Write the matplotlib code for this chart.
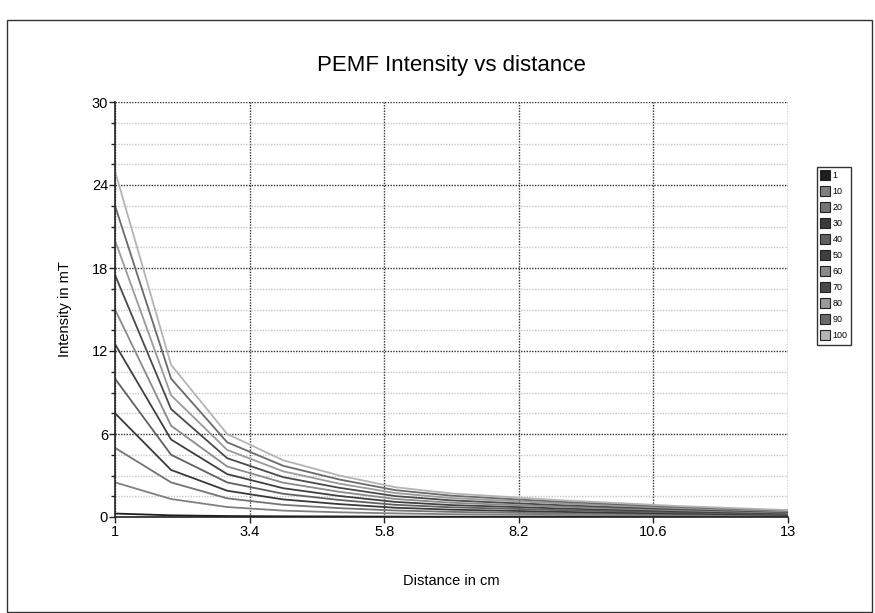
import matplotlib
matplotlib.use("Agg")
import matplotlib.pyplot as plt
from matplotlib.lines import Line2D
from matplotlib.patches import Rectangle

plt.rcParams["font.family"] = ["Liberation Sans", "DejaVu Sans"]

# distance in cm
distance = [1, 2, 3, 4, 5, 6, 7, 8, 9, 10, 11, 12, 13]

# intensity in mT for each device setting
s1 = [0.25, 0.12, 0.07, 0.05, 0.04, 0.03, 0.02, 0.02, 0.02, 0.01, 0.01, 0.01, 0.01]
s10 = [2.5, 1.3, 0.72, 0.46, 0.34, 0.26, 0.2, 0.17, 0.14, 0.12, 0.1, 0.08, 0.07]
s20 = [5.0, 2.5, 1.35, 0.88, 0.64, 0.47, 0.37, 0.31, 0.26, 0.22, 0.18, 0.15, 0.12]
s30 = [7.5, 3.4, 1.9, 1.27, 0.93, 0.67, 0.53, 0.45, 0.37, 0.31, 0.25, 0.21, 0.16]
s40 = [10.0, 4.5, 2.5, 1.68, 1.23, 0.88, 0.7, 0.6, 0.49, 0.41, 0.33, 0.27, 0.21]
s50 = [12.5, 5.6, 3.1, 2.08, 1.52, 1.09, 0.86, 0.74, 0.61, 0.51, 0.41, 0.33, 0.26]
s60 = [15.0, 6.6, 3.65, 2.48, 1.82, 1.3, 1.03, 0.88, 0.73, 0.61, 0.49, 0.4, 0.31]
s70 = [17.5, 7.8, 4.25, 2.88, 2.11, 1.51, 1.2, 1.02, 0.85, 0.7, 0.57, 0.46, 0.36]
s80 = [20.0, 8.8, 4.85, 3.3, 2.41, 1.73, 1.37, 1.17, 0.97, 0.81, 0.65, 0.53, 0.41]
s90 = [22.5, 10.0, 5.4, 3.7, 2.71, 1.94, 1.54, 1.31, 1.09, 0.91, 0.73, 0.59, 0.46]
s100 = [25.0, 11.0, 6.0, 4.1, 3.0, 2.15, 1.7, 1.45, 1.2, 1.0, 0.8, 0.65, 0.5]

labels = ["1", "10", "20", "30", "40", "50", "60", "70", "80", "90", "100"]
series = [s1, s10, s20, s30, s40, s50, s60, s70, s80, s90, s100]
colors = ["#1e1e1e", "#808080", "#747474", "#3a3a3a", "#606060", "#404040",
          "#8a8a8a", "#4a4a4a", "#9a9a9a", "#6a6a6a", "#b4b4b4"]

x_ticks = [1, 3.4, 5.8, 8.2, 10.6, 13]
x_ticklabels = ["1", "3.4", "5.8", "8.2", "10.6", "13"]
y_ticks = [0, 6, 12, 18, 24, 30]
y_minor = [1.5, 3, 4.5, 7.5, 9, 10.5, 13.5, 15, 16.5, 19.5, 21, 22.5, 25.5, 27, 28.5]

fig = plt.figure(figsize=(8.75, 6.13), dpi=100)
ax = fig.add_axes([115 / 875, 1 - 517 / 613, 673 / 875, 415 / 613])

# outer frame around the whole chart
fig.patches.append(Rectangle((7 / 875, 1 / 613), 865 / 875, 592 / 613,
                             transform=fig.transFigure, fill=False,
                             edgecolor="#333333", lw=1.0))

for vals, c in zip(series, colors):
    ax.plot(distance, vals, color=c, lw=1.3, solid_joinstyle="miter")

ax.set_xlim(1, 13)
ax.set_ylim(0, 30)
ax.set_xticks(x_ticks)
ax.set_xticklabels(x_ticklabels)
ax.set_yticks(y_ticks)
ax.set_yticks(y_minor, minor=True)

ax.grid(True, which="major", color="#333333", ls=(0, (1, 1)), lw=1.0)
ax.grid(True, which="minor", axis="y", color="#c8c8c8", ls=(0, (1, 1)), lw=1.0)
ax.set_axisbelow(True)

for side in ["top", "right"]:
    ax.spines[side].set_visible(False)
ax.spines["left"].set_color("#222222")
ax.spines["bottom"].set_color("#222222")
ax.spines["left"].set_linewidth(1.2)
ax.spines["bottom"].set_linewidth(1.2)

ax.tick_params(axis="both", which="major", length=4, width=1, labelsize=10.5,
               color="#222222", pad=2)
ax.tick_params(axis="y", which="major", pad=1)
ax.tick_params(axis="y", which="minor", length=3, width=1, color="#222222")

ax.set_title("PEMF Intensity vs distance", fontsize=16, pad=22)
ax.set_xlabel("Distance in cm", fontsize=10.5, labelpad=25)
ax.set_ylabel("Intensity in mT", fontsize=10.5, labelpad=14)

handles = [Line2D([], [], ls="none", marker="s", markersize=7.5, markerfacecolor=c,
                  markeredgecolor="#222222", markeredgewidth=0.8) for c in colors]
fig.legend(handles, labels, loc="upper left", bbox_to_anchor=(817 / 875, 1 - 167 / 613),
           fontsize=6.5, frameon=True, fancybox=False, framealpha=1, edgecolor="#333333",
           handlelength=0.9, handletextpad=0.35, labelspacing=0.78, borderpad=0.45,
           borderaxespad=0)

fig.savefig("out.png", dpi=100)
